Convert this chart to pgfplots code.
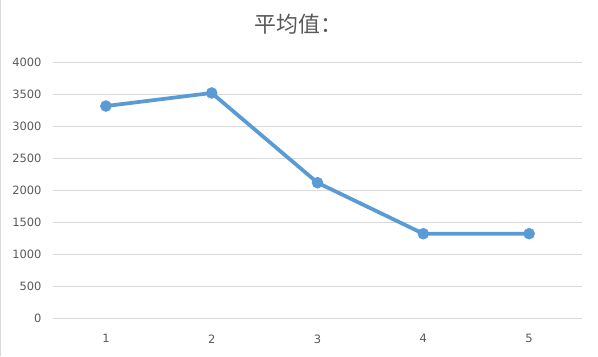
\documentclass[border=0pt]{standalone}
\usepackage{fontspec}
\setmainfont{DejaVu Sans}
\newfontfamily\cjk{Noto Sans CJK SC}
\usepackage{pgfplots}
\pgfplotsset{compat=1.18}
\definecolor{linec}{RGB}{91,155,213}
\definecolor{gridc}{RGB}{217,217,217}
\definecolor{textc}{RGB}{89,89,89}
\begin{document}
\begin{tikzpicture}[x=1bp,y=1bp]
\useasboundingbox (0,0) rectangle (598,356);
\draw[gridc, line width=1bp] (0.5,0) -- (0.5,356);
\begin{axis}[
  at={(53bp,38bp)}, anchor=south west,
  scale only axis, width=529bp, height=256bp,
  xmin=0.5, xmax=5.5, ymin=0, ymax=4000,
  xtick={1,2,3,4,5}, ytick={0,500,...,4000},
  axis lines*=left,
  y axis line style={draw=none},
  x axis line style={gridc, line width=0.75bp, -},
  ymajorgrids, grid style={gridc, line width=0.75bp},
  major tick length=0pt, tick style={draw=none},
  tick label style={font=\fontsize{11.5}{14}\selectfont, text=textc},
  yticklabel style={xshift=-8bp},
  xticklabel style={yshift=-13bp},
  scaled y ticks=false,
  /pgf/number format/assume math mode=true,
  /pgf/number format/set thousands separator={},
  title={\cjk 平均值：},
  title style={at={(0.5,1)}, anchor=center, xshift=-19bp, yshift=32bp, font=\fontsize{22}{26}\selectfont, text=textc},
  clip=false,
]
\addplot[color=linec, line width=3.75bp, mark=*, mark size=5.5bp, mark options={fill=linec, draw=linec, line width=0.5bp}]
  coordinates {(1,3312) (2,3516) (3,2114) (4,1317) (5,1317)};
\end{axis}
\end{tikzpicture}
\end{document}
